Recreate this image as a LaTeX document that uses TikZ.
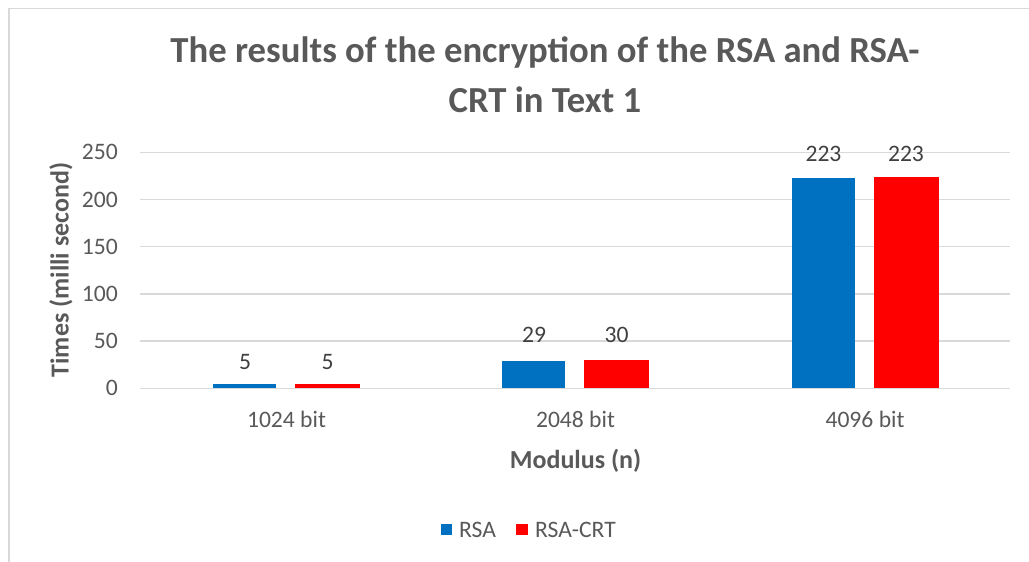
\documentclass[tikz,border=0pt]{standalone}
\usepackage{fontspec}
\setmainfont{Carlito}
\definecolor{txt}{HTML}{595959}
\definecolor{lbl}{HTML}{404040}
\definecolor{gridc}{HTML}{D9D9D9}
\definecolor{rsa}{HTML}{0070C0}
\definecolor{crt}{HTML}{FF0000}
\begin{document}
\begin{tikzpicture}[x=1pt,y=-1pt,
  ticklbl/.style={text=txt,font=\fontsize{23.6}{28}\selectfont,inner sep=0pt},
  datalbl/.style={text=lbl,font=\fontsize{23.6}{28}\selectfont,inner sep=0pt},
  axtitle/.style={text=txt,font=\fontsize{26}{30}\selectfont\bfseries,inner sep=0pt},
  gridline/.style={draw=gridc,line width=1.5pt},
  rsabar/.style={fill=rsa,draw=none},
  crtbar/.style={fill=crt,draw=none}]
\useasboundingbox (0,0) rectangle (1029,562);
% chart border
\draw[gridc,line width=1.5pt] (9,562) -- (9,8.5) -- (1029,8.5);
% title
\node[text=txt,font=\fontsize{36.7}{50}\selectfont\bfseries,align=center,inner sep=0pt] (title) at (545,75)
  {The results of the encryption of the RSA and RSA-\\CRT in Text 1};
% grid and ticks
\foreach \v/\n in {0/t0,50/t50,100/t100,150/t150,200/t200,250/t250}{
  \draw[gridline] (140,{388.3-0.944*\v}) -- (1010,{388.3-0.944*\v});
  \node[ticklbl,anchor=east] (\n) at (118,{388.3-0.944*\v}) {\v};
}
% bars
\foreach \c/\a/\b/\k in {286.5/5/5/a,575.5/29/30/b,865/222.6/223.4/c}{
  \fill[rsabar] (\c-73.5,388.3) rectangle (\c-10.5,{388.3-0.944*\a});
  \fill[crtbar] (\c+8.5,388.3) rectangle (\c+73.5,{388.3-0.944*\b});
}
% data labels
\node[datalbl] (l1a) at (245,362) {5};
\node[datalbl] (l1b) at (327.5,362) {5};
\node[datalbl] (l2a) at (534,335) {29};
\node[datalbl] (l2b) at (616.5,335) {30};
\node[datalbl] (l3a) at (823.5,154) {223};
\node[datalbl] (l3b) at (906,154) {223};
% category labels
\node[ticklbl] (c1) at (286.5,419) {1024 bit};
\node[ticklbl] (c2) at (575.5,419) {2048 bit};
\node[ticklbl] (c3) at (865,419) {4096 bit};
% axis titles
\node[axtitle] (xt) at (575.5,461) {Modulus (n)};
\node[axtitle,rotate=90] (yt) at (61,270) {Times (milli second)};
% legend
\fill[rsa] (441,524) rectangle (452,535);
\node[ticklbl,anchor=west] (leg1) at (459,530) {RSA};
\fill[crt] (516,524) rectangle (528,535);
\node[ticklbl,anchor=west] (leg2) at (535,530) {RSA-CRT};
\end{tikzpicture}
\end{document}
